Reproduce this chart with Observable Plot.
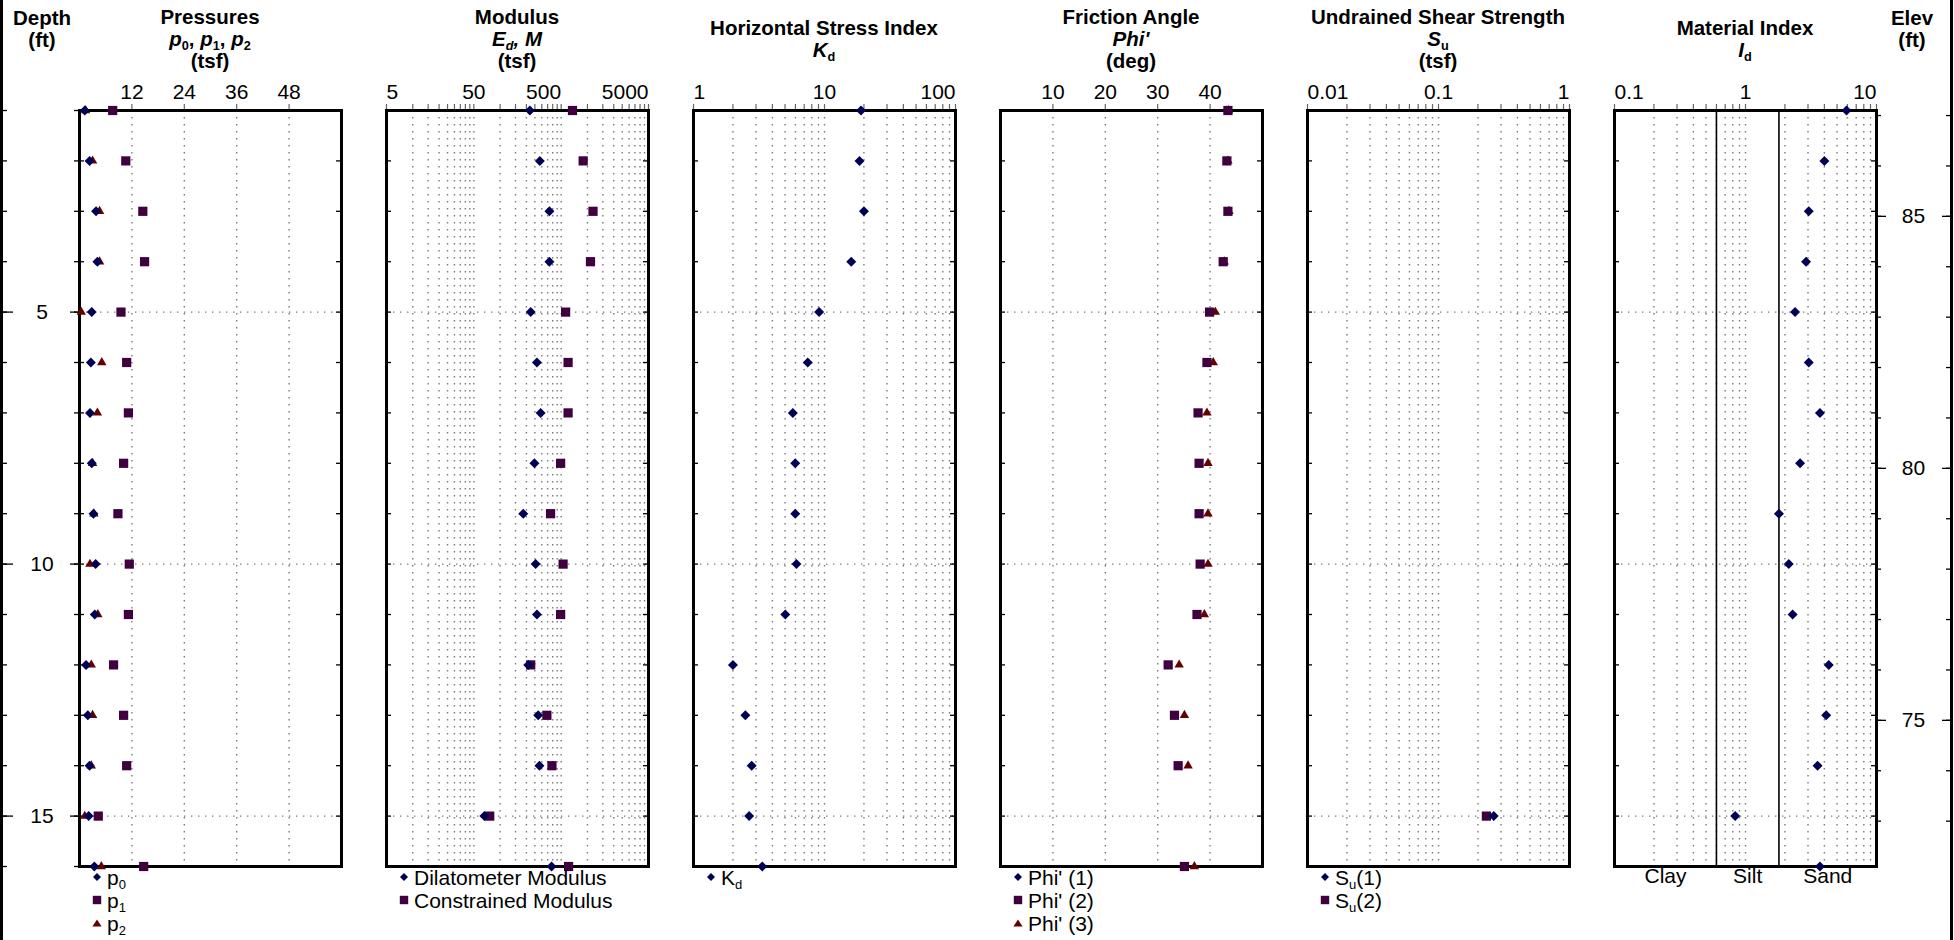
<!DOCTYPE html>
<html>
<head>
<meta charset="utf-8">
<script src="https://cdn.jsdelivr.net/npm/d3@7"></script>
<script src="https://cdn.jsdelivr.net/npm/@observablehq/plot@0.6"></script>
<style>
html,body{margin:0;padding:0;background:#fff;}
#chart{position:relative;width:1954px;height:940px;overflow:hidden;font-family:"Liberation Sans",Arial,sans-serif;color:#000;background:#fff;}
.edge{position:absolute;top:0;width:3px;height:940px;background:#000;}
.title{position:absolute;top:0;height:78px;width:320px;margin-left:-160px;display:flex;flex-direction:column;justify-content:center;align-items:center;font-weight:bold;font-size:20.5px;line-height:22px;white-space:nowrap;}
.title.side{justify-content:flex-start;padding-top:7px;height:auto;width:100px;margin-left:-50px;}
.title sub,.legend sub,.zone sub{font-size:0.62em;line-height:0;vertical-align:-0.3em;}
.legend{position:absolute;font-size:21px;line-height:23px;white-space:nowrap;}
.legend .row{display:flex;align-items:center;height:23px;}
.legend svg{width:12px;height:12px;margin-right:4px;flex:none;}
.plotsvg{position:absolute;}
</style>
</head>
<body>
<div id="chart"></div>
<script>
// ---------------- data ----------------
const depth = [1, 2, 3, 4, 5, 6, 7, 8, 9, 10, 11, 12, 13, 14, 15, 16];
const groundElev = 88.1;

// Pressures (tsf)
const p0 = [1.2, 2.3, 3.8, 4.1, 2.8, 2.6, 2.4, 2.8, 3.2, 3.7, 3.5, 1.5, 1.9, 2.3, 2.1, 3.4];
const p1 = [7.6, 10.6, 14.5, 14.9, 9.5, 10.8, 11.2, 10.1, 8.8, 11.4, 11.2, 7.8, 10.1, 10.8, 4.3, 14.7];
const p2 = [1.4, 3.0, 4.6, 4.6, 0.4, 5.1, 4.1, 3.0, 3.3, 2.4, 4.2, 2.7, 3.0, 2.7, 1.2, 5.0];

// Modulus (tsf)
const ED = [219, 285, 367, 367, 224, 264, 291, 247, 184, 255, 264, 210, 273, 282, 66, 388];
const M  = [674, 893, 1158, 1083, 562, 600, 600, 493, 378, 526, 493, 224, 343, 392, 76, 608];

// Horizontal stress index
const Kd = [19.0, 18.5, 20.0, 16.0, 9.1, 7.45, 5.73, 5.98, 5.98, 6.11, 5.02, 2.0, 2.49, 2.78, 2.66, 3.35];

// Friction angle (deg)
const phi1 = [null, null, null, null, null, null, null, null, null, null, null, null, null, null, null, null];
const phi2 = [43.4, 43.2, 43.4, 42.5, 39.9, 39.4, 37.7, 37.9, 37.9, 38.1, 37.5, 32.0, 33.2, 33.9, null, 35.1];
const phi3 = [43.5, 43.4, 43.6, 42.7, 41.0, 40.6, 39.4, 39.6, 39.6, 39.6, 38.9, 34.1, 35.1, 35.8, null, 37.0];

// Undrained shear strength (tsf)
const su1 = [null, null, null, null, null, null, null, null, null, null, null, null, null, null, 0.264, null];
const su2 = [null, null, null, null, null, null, null, null, null, null, null, null, null, null, 0.232, null];

// Material index
const Id = [5.9, 4.0, 3.04, 2.9, 2.39, 3.04, 3.7, 2.61, 1.8, 2.14, 2.29, 4.32, 4.13, 3.55, 0.834, 3.7];

// tick labels
const depthLabels = [5, 10, 15];
const elevTicks = [73, 74, 75, 76, 77, 78, 79, 80, 81, 82, 83, 84, 85, 86, 87];
const elevLabels = [75, 80, 85];
const pressTicks = [12, 24, 36, 48];
const modLabels = [5, 50, 500, 5000];
const kdLabels = [1, 10, 100];
const phiTicks = [10, 20, 30, 40];
const suLabels = [0.01, 0.1, 1];
const idLabels = [0.1, 1, 10];
const zoneNames = ["Clay", "Silt", "Sand"];
const zoneBounds = [0.1, 0.6, 1.8, 10];

// series names
const pressNames = ["p<sub>0</sub>", "p<sub>1</sub>", "p<sub>2</sub>"];
const modNames = ["Dilatometer Modulus", "Constrained Modulus"];
const kdNames = ["K<sub>d</sub>"];
const phiNames = ["Phi' (1)", "Phi' (2)", "Phi' (3)"];
const suNames = ["S<sub>u</sub>(1)", "S<sub>u</sub>(2)"];

// ---------------- layout & style ----------------
const frameTop = 110, frameH = 756, panelW = 262, panelStep = 307, firstLeft = 79;
const mT = 40, mB = 30, mS = 10;
const C_DIA = "#000055", C_SQ = "#400040", C_TRI = "#660000";
const SYM = {
  diamond: {symbol: "diamond2", fill: C_DIA, r: 4.5},
  square: {symbol: "square", fill: C_SQ, r: 5.2},
  triangle: {symbol: "triangle", fill: C_TRI, r: 3.5}
};
const gridStyle = {stroke: "#7a7a7a", strokeOpacity: 1, strokeWidth: 1.4, strokeDasharray: "1.4,5.6"};
const svgStyle = {fontFamily: "Liberation Sans, Arial, sans-serif", fontSize: "21px", overflow: "visible", background: "transparent", maxWidth: "none"};

function logMinor(lo, hi) {
  const out = [];
  for (let dec = lo; dec < hi * 0.999; dec *= 10)
    for (let m = 1; m < 10; m++) out.push(+(dec * m).toPrecision(6));
  out.push(hi);
  return out;
}

const chart = document.getElementById("chart");

function place(svg, left) {
  svg.classList.add("plotsvg");
  svg.style.left = left + "px";
  svg.style.top = (frameTop - mT) + "px";
  chart.appendChild(svg);
}

function panel(i, cfg) {
  const left = firstLeft + i * panelStep;
  const dom = cfg.x.domain;
  const minor = cfg.minor;
  const grid = minor.filter(v => v > dom[0] * 1.0001 && v < dom[1] * 0.9999);
  const labelMarks = ["start", "middle", "end"].map(a => {
    const vals = cfg.labels.filter((_, k) => cfg.anchors[k] === a);
    return vals.length ? Plot.text(vals, {x: d => d, text: d => String(d), frameAnchor: "top", dy: -26, lineAnchor: "top", textAnchor: a, fontSize: 21}) : null;
  }).filter(Boolean);
  const dots = cfg.series.slice().reverse().map(s =>
    Plot.dot(s.values, {x: d => d, y: (d, k) => depth[k], ...SYM[s.shape], stroke: "none"}));
  const svg = Plot.plot({
    width: panelW + 2 * mS, height: mT + frameH + mB,
    marginLeft: mS, marginRight: mS, marginTop: mT, marginBottom: mB,
    x: {...cfg.x, axis: null},
    y: {domain: [1, 16], reverse: true, axis: null},
    style: svgStyle,
    marks: [
      Plot.gridX(grid, {x: d => d, ...gridStyle}),
      Plot.gridY(depthLabels, {y: d => d, ...gridStyle}),
      ...(cfg.extra || []),
      Plot.tickY(depth, {y: d => d, insetRight: panelW - 5, stroke: "#000", strokeWidth: 1.3}),
      Plot.tickY(depth, {y: d => d, insetLeft: panelW - 5, stroke: "#000", strokeWidth: 1.3}),
      Plot.axisX(minor, {anchor: "top", tickSize: 7, tickFormat: () => "", label: null, stroke: "#666", strokeWidth: 1.2}),
      Plot.frame({stroke: "#000", strokeWidth: 3}),
      ...labelMarks,
      ...dots
    ]
  });
  place(svg, left - mS);

  // title
  const t = document.createElement("div");
  t.className = "title";
  t.style.left = (left + panelW / 2) + "px";
  t.innerHTML = cfg.title.map(l => `<div>${l}</div>`).join("");
  chart.appendChild(t);

  // legend
  if (cfg.series.length && cfg.names) {
    const lg = document.createElement("div");
    lg.className = "legend";
    lg.style.left = (left + 12) + "px";
    lg.style.top = "865.5px";
    lg.innerHTML = cfg.series.map((s, k) => `<div class="row">${markerSvg(s.shape)}<span>${cfg.names[k]}</span></div>`).join("");
    chart.appendChild(lg);
  }
}

function markerSvg(shape) {
  const c = SYM[shape].fill;
  let g;
  if (shape === "diamond") g = `<polygon points="6,2 10,6 6,10 2,6" fill="${c}"/>`;
  else if (shape === "square") g = `<rect x="1.8" y="1.8" width="8.4" height="8.4" fill="${c}"/>`;
  else g = `<polygon points="6,2.4 10.6,9.6 1.4,9.6" fill="${c}"/>`;
  return `<svg viewBox="0 0 12 12">${g}</svg>`;
}

// edges
[0, 1950].forEach(x => { const e = document.createElement("div"); e.className = "edge"; e.style.left = x + "px"; chart.appendChild(e); });

// depth axis (left)
place(Plot.plot({
  width: firstLeft, height: mT + frameH + mB,
  marginLeft: 0, marginRight: 0, marginTop: mT, marginBottom: mB,
  y: {domain: [1, 16], reverse: true, axis: null},
  style: svgStyle,
  marks: [
    Plot.tickY(depth, {y: d => d, insetRight: firstLeft - 7, strokeWidth: 1.3}),
    Plot.tickY(depthLabels, {y: d => d, insetRight: firstLeft - 13, strokeWidth: 1.3}),
    Plot.tickY(depth, {y: d => d, insetLeft: firstLeft - 5, strokeWidth: 1.3}),
    Plot.tickY(depthLabels, {y: d => d, insetLeft: firstLeft - 9, strokeWidth: 1.3}),
    Plot.text(depthLabels, {y: d => d, text: d => String(d), frameAnchor: "middle", dx: 2, fontSize: 21})
  ]
}), 0);

// elevation axis (right)
const elevLeft = firstLeft + 5 * panelStep + panelW;
const elevW = 1950 - elevLeft;
place(Plot.plot({
  width: elevW, height: mT + frameH + mB,
  marginLeft: 0, marginRight: 0, marginTop: mT, marginBottom: mB,
  y: {domain: [groundElev - 16, groundElev - 1], axis: null},
  style: svgStyle,
  marks: [
    Plot.tickY(elevTicks, {y: d => d, insetRight: elevW - 5, strokeWidth: 1.3}),
    Plot.tickY(elevLabels, {y: d => d, insetRight: elevW - 10, strokeWidth: 1.3}),
    Plot.tickY(elevTicks, {y: d => d, insetLeft: elevW - 4, strokeWidth: 1.3}),
    Plot.tickY(elevLabels, {y: d => d, insetLeft: elevW - 8, strokeWidth: 1.3}),
    Plot.text(elevLabels, {y: d => d, text: d => String(d), frameAnchor: "middle", fontSize: 21})
  ]
}), elevLeft);

// side titles
[["Depth", "(ft)", 42], ["Elev", "(ft)", 1912]].forEach(([a, b, x]) => {
  const t = document.createElement("div");
  t.className = "title side";
  t.style.left = x + "px";
  t.innerHTML = `<div>${a}</div><div>${b}</div>`;
  chart.appendChild(t);
});

// panels
panel(0, {
  title: ["Pressures", "<i>p</i><sub>0</sub>, <i>p</i><sub>1</sub>, <i>p</i><sub>2</sub>", "(tsf)"],
  x: {type: "linear", domain: [0, 60]},
  minor: pressTicks, labels: pressTicks, anchors: ["middle", "middle", "middle", "middle"],
  series: [{values: p0, shape: "diamond"}, {values: p1, shape: "square"}, {values: p2, shape: "triangle"}],
  names: pressNames
});
panel(1, {
  title: ["Modulus", "<i>E<sub>d</sub>, M</i>", "(tsf)"],
  x: {type: "log", domain: [5, 5000]},
  minor: logMinor(5, 5000), labels: modLabels, anchors: ["start", "middle", "end", "end"],
  series: [{values: ED, shape: "diamond"}, {values: M, shape: "square"}],
  names: modNames
});
panel(2, {
  title: ["Horizontal Stress Index", "<i>K</i><sub>d</sub>"],
  x: {type: "log", domain: [1, 100]},
  minor: logMinor(1, 100), labels: kdLabels, anchors: ["start", "middle", "end"],
  series: [{values: Kd, shape: "diamond"}],
  names: kdNames
});
panel(3, {
  title: ["Friction Angle", "<i>Phi'</i>", "(deg)"],
  x: {type: "linear", domain: [0, 50]},
  minor: phiTicks, labels: phiTicks, anchors: ["middle", "middle", "middle", "middle"],
  series: [{values: phi1, shape: "diamond"}, {values: phi2, shape: "square"}, {values: phi3, shape: "triangle"}],
  names: phiNames
});
panel(4, {
  title: ["Undrained Shear Strength", "<i>S</i><sub>u</sub>", "(tsf)"],
  x: {type: "log", domain: [0.01, 1]},
  minor: logMinor(0.01, 1), labels: suLabels, anchors: ["start", "middle", "end"],
  series: [{values: su1, shape: "diamond"}, {values: su2, shape: "square"}],
  names: suNames
});
panel(5, {
  title: ["Material Index", "<i>I</i><sub>d</sub>"],
  x: {type: "log", domain: [0.1, 10]},
  minor: logMinor(0.1, 10), labels: idLabels, anchors: ["start", "middle", "end"],
  series: [{values: Id, shape: "diamond"}],
  names: null,
  extra: [
    Plot.ruleX(zoneBounds.slice(1, -1), {x: d => d, stroke: "#000", strokeWidth: 1.6}),
    Plot.text(zoneNames, {x: (d, k) => Math.sqrt(zoneBounds[k] * zoneBounds[k + 1]), text: d => d, frameAnchor: "bottom", dy: 2, lineAnchor: "top", fontSize: 21})
  ]
});
</script>
</body>
</html>
